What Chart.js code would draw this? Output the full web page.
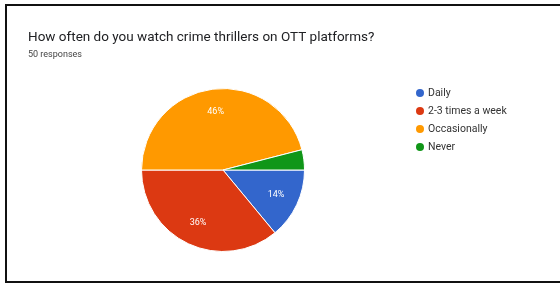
<!DOCTYPE html>
<html>
<head>
<meta charset="utf-8">
<script src="https://cdn.jsdelivr.net/npm/chart.js@4/dist/chart.umd.min.js"></script>
<style>
  html, body { margin: 0; padding: 0; background: #fff; }
  #wrap { position: relative; width: 560px; height: 284px; overflow: hidden; }
  #frame { position: absolute; left: 5px; top: 4px; width: 570px; height: 279px; box-sizing: border-box; border: 2px solid #111; }
  canvas { position: absolute; left: 0; top: 0; }
</style>
</head>
<body>
<div id="wrap">
  <canvas id="c" width="560" height="284"></canvas>
  <div id="frame"></div>
</div>
<script>
const titleText = "How often do you watch crime thrillers on OTT platforms?";
const subtitleText = "50 responses";
const categories = ["Daily", "2-3 times a week", "Occasionally", "Never"];
const responses = [7, 18, 23, 2];
const sliceColors = ["#3366cc", "#dc3912", "#ff9900", "#109618"];

const labelsPlugin = {
  id: 'extras',
  afterDraw(chart) {
    const ctx = chart.ctx;
    const meta = chart.getDatasetMeta(0);
    const total = responses.reduce((a, b) => a + b, 0);
    ctx.save();
    // slice percent labels
    ctx.fillStyle = '#ffffff';
    ctx.font = '9px Roboto, Arial, sans-serif';
    ctx.textAlign = 'center';
    ctx.textBaseline = 'middle';
    meta.data.forEach((arc, i) => {
      const pct = Math.round(responses[i] / total * 100);
      if (pct < 5) return;
      const mid = (arc.startAngle + arc.endAngle) / 2;
      const r = arc.outerRadius * 0.72;
      ctx.fillText(pct + '%', arc.x + Math.cos(mid) * r, arc.y + Math.sin(mid) * r);
    });
    // title
    ctx.textAlign = 'left';
    ctx.textBaseline = 'middle';
    ctx.fillStyle = '#202124';
    ctx.font = '13.5px Roboto, Arial, sans-serif';
    ctx.fillText(titleText, 28, 38);
    ctx.fillStyle = '#444';
    ctx.font = '9px Roboto, Arial, sans-serif';
    ctx.fillText(subtitleText, 28, 55);
    // legend
    ctx.font = '10.5px Roboto, Arial, sans-serif';
    categories.forEach((c, i) => {
      const y = 93 + i * 18;
      ctx.beginPath();
      ctx.arc(420, y, 4, 0, Math.PI * 2);
      ctx.fillStyle = sliceColors[i];
      ctx.fill();
      ctx.fillStyle = '#333';
      ctx.fillText(c, 428, y);
    });
    ctx.restore();
  }
};

new Chart(document.getElementById('c'), {
  type: 'pie',
  data: {
    labels: categories,
    datasets: [{
      data: responses,
      backgroundColor: sliceColors,
      borderColor: '#ffffff',
      borderWidth: 1
    }]
  },
  options: {
    responsive: false,
    animation: false,
    rotation: 90,
    layout: { padding: { left: 141, right: 255, top: 88, bottom: 32 } },
    plugins: {
      legend: { display: false },
      tooltip: { enabled: false },
      title: { display: false }
    }
  },
  plugins: [labelsPlugin]
});
</script>
</body>
</html>
